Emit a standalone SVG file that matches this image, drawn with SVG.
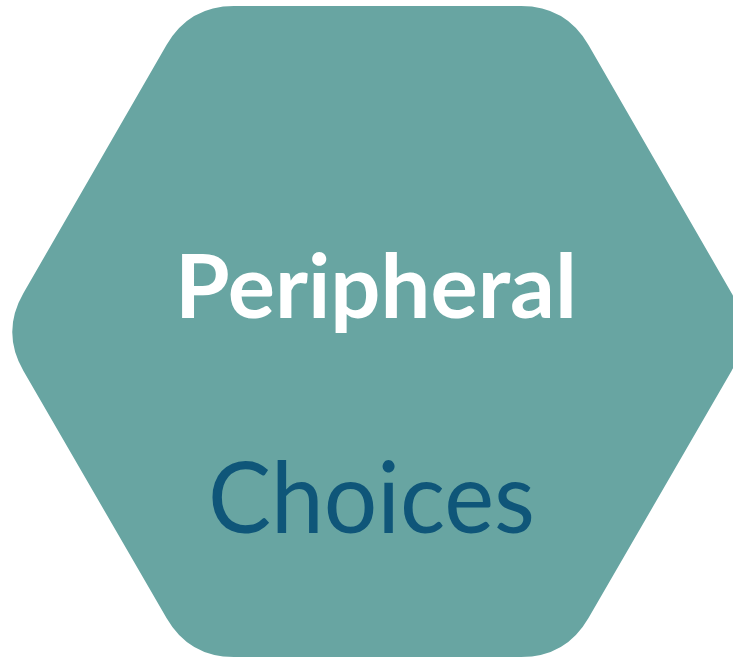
<svg xmlns="http://www.w3.org/2000/svg" width="733" height="659" viewBox="0 0 733 659">
<style>
.hex{fill:#68A5A2;}
.t1{font-family:Lato,"Open Sans","Liberation Sans",sans-serif;font-weight:bold;font-size:88px;fill:#FFFFFF;}
.t2{font-family:Lato,"Open Sans","Liberation Sans",sans-serif;font-size:98px;fill:#0F5679;}
</style>
<rect width="733" height="659" fill="#FFFFFF"/>
<g id="node-hexagon">
<path class="hex" d="M 234,6 L 521,6 Q 566,6 588.5,45 L 731.5,293 Q 754,332 731.5,371 L 588.5,618 Q 566,657 521,657 L 234,657 Q 189,657 166.5,618 L 23.5,371 Q 1,332 23.5,293 L 166.5,45 Q 189,6 234,6 Z"/>
<text class="t1" x="175" y="318" textLength="402" lengthAdjust="spacingAndGlyphs">Peripheral</text>
<text class="t2" x="208" y="533" textLength="327" lengthAdjust="spacingAndGlyphs">Choices</text>
</g>
<g id="connectors"></g>
</svg>
